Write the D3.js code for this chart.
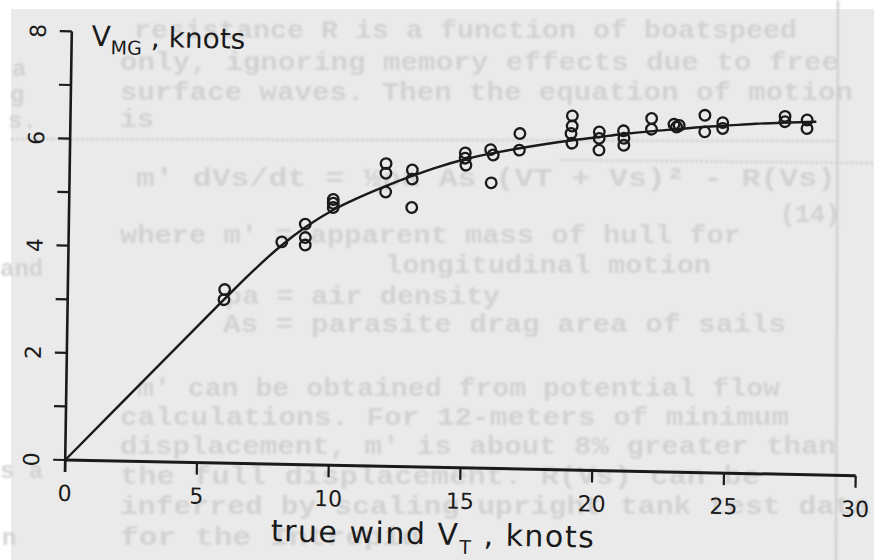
<!DOCTYPE html>
<html>
<head>
<meta charset="utf-8">
<script src="https://cdn.jsdelivr.net/npm/d3@7"></script>
<style>
  body { margin: 0; background: #fff; }
  .hand { font-family: "DejaVu Sans", sans-serif; }
  .typed { font-family: "Liberation Mono", "DejaVu Sans Mono", monospace; font-weight: bold; }
</style>
</head>
<body>
<svg id="chart" width="874" height="560"></svg>
<script>
// measured runs: true wind (knots) vs VMG (knots)
var windPts = [5.95, 5.93, 8.09, 8.97, 8.98, 8.98, 10.02, 10.02, 10.02,
  12.0, 12.0, 12.0, 13.0, 13.0, 13.0, 15.0, 15.0, 15.03, 15.96, 16.06, 16.0,
  17.06, 17.05, 19.04, 19.04, 19.0, 19.04, 20.07, 20.07, 20.07, 20.99, 21.01, 21.01,
  22.05, 22.05, 22.9, 23.0, 23.1, 24.07, 24.07, 24.75, 24.75, 27.11, 27.11, 27.95, 27.95];
var vmgPts = [3.24, 3.05, 4.15, 4.49, 4.24, 4.10, 4.96, 4.89, 4.81,
  5.65, 5.47, 5.12, 5.54, 5.37, 4.84, 5.88, 5.78, 5.65, 5.95, 5.85, 5.33,
  6.26, 5.95, 6.61, 6.42, 6.28, 6.10, 6.32, 6.20, 5.98, 6.35, 6.21, 6.08,
  6.59, 6.39, 6.49, 6.44, 6.47, 6.67, 6.36, 6.54, 6.43, 6.68, 6.58, 6.62, 6.46];

// hand-faired curve through the data
var curveWind = [0, 5, 6, 7, 8, 9, 10, 11, 12, 13, 14, 15, 16, 17, 18, 19, 20, 21, 22, 23, 24, 25, 26, 27, 28.3];
var curveVmg  = [0, 2.575, 3.09, 3.59, 4.05, 4.44, 4.76, 5.01, 5.23, 5.43, 5.61, 5.76, 5.88, 5.98, 6.07,
  6.15, 6.22, 6.29, 6.35, 6.40, 6.45, 6.49, 6.53, 6.56, 6.59];

var xTicks = [0, 5, 10, 15, 20, 25, 30];
var yTicks = [0, 2, 4, 6, 8];
var yMinor = [1, 3, 5, 7];

// typed page showing through from underneath
var ghostText = [
  "resistance R is a function of boatspeed",
  "only, ignoring memory effects due to free",
  "surface waves. Then the equation of motion",
  "is",
  "m' dVs/dt = \u00bd\u03c1a As (VT + Vs)\u00b2 - R(Vs)",
  "(14)",
  "where m' = apparent mass of hull for",
  "longitudinal motion",
  "\u03c1a = air density",
  "As = parasite drag area of sails",
  "m' can be obtained from potential flow",
  "calculations. For 12-meters of minimum",
  "displacement, m' is about 8% greater than",
  "the full displacement. R(Vs) can be",
  "inferred by scaling upright tank test data",
  "for the Intrepid"
];
var marginText = ["a", "g", "s.", "and", "s a", "n"];

var svg = d3.select("#chart");
var W = 874, H = 560;

// scanned page
svg.append("rect").attr("width", W).attr("height", H).attr("fill", "#fff");
svg.append("rect").attr("x", 11).attr("y", 9).attr("width", W - 11).attr("height", H - 9)
  .attr("fill", "#eaeaea");

var defs = svg.append("defs");
defs.append("filter").attr("id", "soft")
  .append("feGaussianBlur").attr("stdDeviation", 0.9);

var ghost = svg.append("g").attr("filter", "url(#soft)")
  .attr("fill", "#d2d2d2");

// x, baseline, width of each ghost line
var ghostPos = [
  [134, 38, 663], [120, 70, 719], [120, 100, 733], [120, 127, 34],
  [136, 186, 700], [780, 222, 60], [120, 243, 621], [385, 273, 326],
  [225, 304, 275], [223, 332, 563], [137, 396, 643], [120, 425, 669],
  [120, 454, 716], [120, 484, 640], [120, 514, 750], [120, 545, 300]
];
ghost.selectAll(".ghost")
  .data(ghostText)
 .enter().append("text")
  .attr("class", "typed")
  .attr("x", (d, i) => ghostPos[i][0])
  .attr("y", (d, i) => ghostPos[i][1])
  .attr("textLength", (d, i) => ghostPos[i][2])
  .attr("lengthAdjust", "spacingAndGlyphs")
  .style("font-size", "26px")
  .text(d => d);

var marginPos = [[12, 76], [10, 102], [8, 128], [0, 276], [0, 478], [2, 545]];
ghost.selectAll(".margin")
  .data(marginText)
 .enter().append("text")
  .attr("class", "typed")
  .attr("x", (d, i) => marginPos[i][0])
  .attr("y", (d, i) => marginPos[i][1])
  .style("font-size", "24px")
  .text(d => d);

// page edge / rule lines from the sheet below
ghost.append("line").attr("x1", 838).attr("x2", 836).attr("y1", 0).attr("y2", 560)
  .attr("stroke", "#cacaca").attr("stroke-width", 2);
ghost.append("line").attr("x1", 11).attr("x2", 840).attr("y1", 139).attr("y2", 141)
  .attr("stroke", "#c8c8c8").attr("stroke-width", 2).attr("stroke-dasharray", "3,2");
ghost.append("line").attr("x1", 560).attr("x2", 874).attr("y1", 160).attr("y2", 163)
  .attr("stroke", "#cacaca").attr("stroke-width", 2).attr("stroke-dasharray", "3,2");

// the drawing itself is a little skewed on the scan
var plot = svg.append("g")
  .attr("transform", "matrix(1,0.0199,-0.0154,1,65.2,460)");

var x = d3.scaleLinear().domain([0, 30]).range([0, 790.5]);
var y = d3.scaleLinear().domain([0, 8]).range([0, -428.6]);

var ink = "#1a1a1a";

// axes
plot.append("line").attr("x1", x(0)).attr("x2", x(30)).attr("y1", 0).attr("y2", 0)
  .attr("stroke", ink).attr("stroke-width", 3);
plot.append("line").attr("x1", 0).attr("x2", 0).attr("y1", y(0) + 12).attr("y2", y(8))
  .attr("stroke", ink).attr("stroke-width", 2.6);

plot.selectAll(".xtick")
  .data(xTicks)
 .enter().append("line")
  .attr("x1", d => x(d)).attr("x2", d => x(d))
  .attr("y1", 0).attr("y2", 12)
  .attr("stroke", ink).attr("stroke-width", 2.2);

plot.selectAll(".ytick")
  .data(yTicks.concat(yMinor))
 .enter().append("line")
  .attr("x1", -12).attr("x2", 0)
  .attr("y1", d => y(d)).attr("y2", d => y(d))
  .attr("stroke", ink).attr("stroke-width", 2.2);

plot.selectAll(".xlab")
  .data(xTicks)
 .enter().append("text")
  .attr("class", "hand")
  .attr("x", d => x(d))
  .attr("y", 41)
  .attr("text-anchor", "middle")
  .attr("fill", ink)
  .style("font-size", "22px")
  .text(d => d);

plot.selectAll(".ylab")
  .data(yTicks)
 .enter().append("text")
  .attr("class", "hand")
  .attr("transform", d => "translate(-26," + y(d) + ") rotate(-90)")
  .attr("text-anchor", "middle")
  .attr("fill", ink)
  .style("font-size", "22px")
  .text(d => d);

// axis titles
var yTitle = plot.append("text")
  .attr("class", "hand")
  .attr("x", 20).attr("y", y(8) + 14)
  .attr("fill", ink)
  .style("font-size", "28px");
yTitle.append("tspan").text("V");
yTitle.append("tspan").attr("dy", 8).style("font-size", "19px").text("MG");
yTitle.append("tspan").attr("dy", -8).text(" , knots");

var xTitle = plot.append("text")
  .attr("class", "hand")
  .attr("x", x(14)).attr("y", 77)
  .attr("text-anchor", "middle")
  .attr("fill", ink)
  .style("font-size", "30px")
  .style("letter-spacing", "1.5px");
xTitle.append("tspan").text("true wind V");
xTitle.append("tspan").attr("dy", 9).style("font-size", "19px").text("T");
xTitle.append("tspan").attr("dy", -9).text(" , knots");

// faired curve
var line = d3.line()
  .x(d => x(d[0]))
  .y(d => y(d[1]))
  .curve(d3.curveMonotoneX);

plot.append("path")
  .datum(d3.zip(curveWind, curveVmg))
  .attr("d", line)
  .attr("fill", "none")
  .attr("stroke", ink)
  .attr("stroke-width", 2.4);

// data points
plot.selectAll(".pt")
  .data(d3.zip(windPts, vmgPts))
 .enter().append("circle")
  .attr("class", "pt")
  .attr("cx", d => x(d[0]))
  .attr("cy", d => y(d[1]))
  .attr("r", 5.3)
  .attr("fill", "none")
  .attr("stroke", ink)
  .attr("stroke-width", 2.3);
</script>
</body>
</html>
